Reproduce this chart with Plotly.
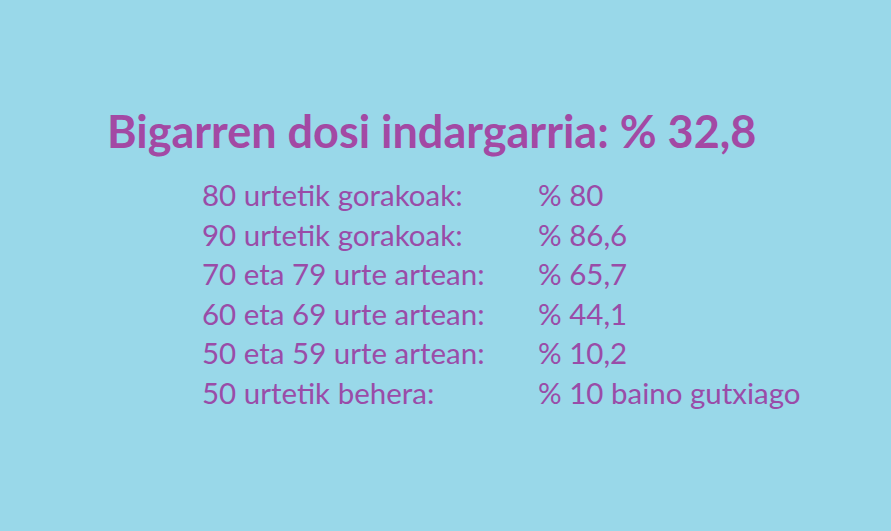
import plotly.graph_objects as go

title_text = "Bigarren dosi indargarria: % 32,8"
age_groups = [
    "80 urtetik gorakoak:",
    "90 urtetik gorakoak:",
    "70 eta 79 urte artean:",
    "60 eta 69 urte artean:",
    "50 eta 59 urte artean:",
    "50 urtetik behera:",
]
values = ["% 80", "% 86,6", "% 65,7", "% 44,1", "% 10,2", "% 10 baino gutxiago"]

W, H = 891, 531
BG = "#99D8E9"
TITLE_COLOR = "#A349A4"
TEXT_COLOR = "#9A4CA8"

rows = list(range(len(age_groups)))
row0_px, row_step_px = 199, 39.5
y_top = -row0_px / row_step_px
y_bot = (H - row0_px) / row_step_px

fig = go.Figure()
fig.add_trace(go.Scatter(
    x=[202] * len(rows), y=rows, text=age_groups, mode="text",
    textposition="middle right",
    textfont=dict(family="Lato", size=29.5, color=TEXT_COLOR),
    hoverinfo="skip", showlegend=False,
))
fig.add_trace(go.Scatter(
    x=[538] * len(rows), y=rows, text=values, mode="text",
    textposition="middle right",
    textfont=dict(family="Lato", size=29.5, color=TEXT_COLOR),
    hoverinfo="skip", showlegend=False,
))

fig.add_annotation(
    text=f"<b>{title_text}</b>", x=105 / W, y=1 - 131 / H,
    xref="paper", yref="paper", xanchor="left", yanchor="middle",
    showarrow=False, font=dict(family="Lato", size=45, color=TITLE_COLOR),
)

fig.update_layout(
    width=W, height=H, margin=dict(l=0, r=0, t=0, b=0),
    paper_bgcolor=BG, plot_bgcolor=BG,
    xaxis=dict(range=[0, W], visible=False, fixedrange=True),
    yaxis=dict(range=[y_bot, y_top], visible=False, fixedrange=True),
)
fig.write_html(
    "out.html",
    post_script="document.body.style.margin='0';document.body.style.background='" + BG + "';",
    config={"displayModeBar": False},
)
